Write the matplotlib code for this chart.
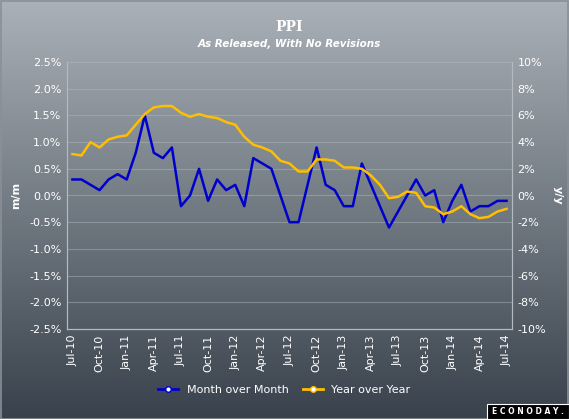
import matplotlib
matplotlib.use("Agg")
import matplotlib.pyplot as plt
import numpy as np
from matplotlib.patches import Rectangle

# monthly points Jul-10 .. Jul-14
months = ["Jul-10", "Aug-10", "Sep-10", "Oct-10", "Nov-10", "Dec-10",
          "Jan-11", "Feb-11", "Mar-11", "Apr-11", "May-11", "Jun-11",
          "Jul-11", "Aug-11", "Sep-11", "Oct-11", "Nov-11", "Dec-11",
          "Jan-12", "Feb-12", "Mar-12", "Apr-12", "May-12", "Jun-12",
          "Jul-12", "Aug-12", "Sep-12", "Oct-12", "Nov-12", "Dec-12",
          "Jan-13", "Feb-13", "Mar-13", "Apr-13", "May-13", "Jun-13",
          "Jul-13", "Aug-13", "Sep-13", "Oct-13", "Nov-13", "Dec-13",
          "Jan-14", "Feb-14", "Mar-14", "Apr-14", "May-14", "Jun-14",
          "Jul-14"]

mom = [0.3, 0.3, 0.2, 0.1, 0.3, 0.4,
       0.3, 0.8, 1.5, 0.8, 0.7, 0.9,
       -0.2, 0.0, 0.5, -0.1, 0.3, 0.1,
       0.2, -0.2, 0.7, 0.6, 0.5, 0.0,
       -0.5, -0.5, 0.2, 0.9, 0.2, 0.1,
       -0.2, -0.2, 0.6, 0.2, -0.2, -0.6,
       -0.3, 0.0, 0.3, 0.0, 0.1, -0.5,
       -0.1, 0.2, -0.3, -0.2, -0.2, -0.1,
       -0.1]

yoy = [3.1, 3.0, 4.0, 3.6, 4.2, 4.4,
       4.5, 5.3, 6.1, 6.6, 6.7, 6.7,
       6.2, 5.9, 6.1, 5.9, 5.8, 5.5,
       5.3, 4.4, 3.8, 3.6, 3.3, 2.6,
       2.4, 1.8, 1.8, 2.7, 2.7, 2.6,
       2.1, 2.1, 2.0, 1.5, 0.8, -0.2,
       -0.1, 0.3, 0.2, -0.8, -0.9, -1.4,
       -1.2, -0.8, -1.4, -1.7, -1.6, -1.2,
       -1.0]

left_ticks = [2.5, 2.0, 1.5, 1.0, 0.5, 0.0, -0.5, -1.0, -1.5, -2.0, -2.5]
right_ticks = [10, 8, 6, 4, 2, 0, -2, -4, -6, -8, -10]

fig = plt.figure(figsize=(5.69, 4.19), dpi=100)

# background gradient
bg = fig.add_axes([0, 0, 1, 1], zorder=-10)
grad = np.linspace(0, 1, 256).reshape(-1, 1)
top = np.array([170, 177, 184]) / 255
bottom = np.array([57, 66, 76]) / 255
img = top + (bottom - top) * grad[:, :, None]
bg.imshow(img, aspect="auto", extent=[0, 1, 0, 1])
bg.set_xlim(0, 1)
bg.set_ylim(0, 1)
bg.set_axis_off()
bg.add_patch(Rectangle((0.001, 0.001), 0.997, 0.997, fill=False,
                       edgecolor="#8a9097", linewidth=1.2))
# logo box
bg.add_patch(Rectangle((487 / 569, 0.0), 82 / 569, 15 / 419,
                       facecolor="black", edgecolor="white", linewidth=0.8))
bg.text(528 / 569, 7.5 / 419, "E C O N O D A Y .", ha="center", va="center",
        color="white", fontsize=5.5, fontweight="bold")

ax = fig.add_axes([67 / 569, 1 - 329 / 419, 445 / 569, 267 / 419])
ax.set_facecolor("none")
ax2 = ax.twinx()

x = np.arange(len(months))
ax.plot(x, mom, color="#0000cc", linewidth=1.8, zorder=3)
ax2.plot(x, yoy, color="#ffbf00", linewidth=1.8, zorder=2)

ax.set_xlim(-0.6, len(months) - 0.4)
ax.set_ylim(-2.5, 2.5)
ax2.set_ylim(-10, 10)

ax.set_yticks(left_ticks)
ax.set_yticklabels([f"{v:.1f}%" for v in left_ticks])
ax2.set_yticks(right_ticks)
ax2.set_yticklabels([f"{v}%" for v in right_ticks])

ax.set_xticks(x[::3])
ax.set_xticklabels(months[::3], rotation=90)

ax.grid(axis="y", color="#b4bac0", linewidth=0.8, alpha=0.45)
for a in (ax, ax2):
    a.tick_params(colors="white", labelsize=8, length=0, pad=4)
    for s in a.spines.values():
        s.set_color("#b4bac0")
        s.set_linewidth(0.8)
    a.spines["top"].set_visible(False)

ax.set_ylabel("m/m", color="white", fontsize=8, fontweight="bold", labelpad=6)
ax2.set_ylabel("y/y", color="white", fontsize=8, fontweight="bold",
               rotation=-90, labelpad=12)

fig.text(0.508, 1 - 27 / 419, "PPI", ha="center", va="center", color="white",
         fontsize=10, fontweight="bold", family="DejaVu Serif")
fig.text(0.508, 1 - 44 / 419, "As Released, With No Revisions", ha="center",
         va="center", color="white", fontsize=7.5, fontweight="bold",
         style="italic")

h1, = ax.plot([], [], color="#0000cc", marker="o", markerfacecolor="white",
              markersize=4, linewidth=2)
h2, = ax.plot([], [], color="#ffbf00", marker="o", markerfacecolor="white",
              markersize=4, linewidth=2)
fig.legend([h1, h2], ["Month over Month", "Year over Year"], loc="center",
           bbox_to_anchor=(0.5, 1 - 390 / 419), ncol=2, frameon=False,
           labelcolor="white", fontsize=8, handlelength=1.8, columnspacing=1.2)

fig.savefig("out.png", dpi=100)
